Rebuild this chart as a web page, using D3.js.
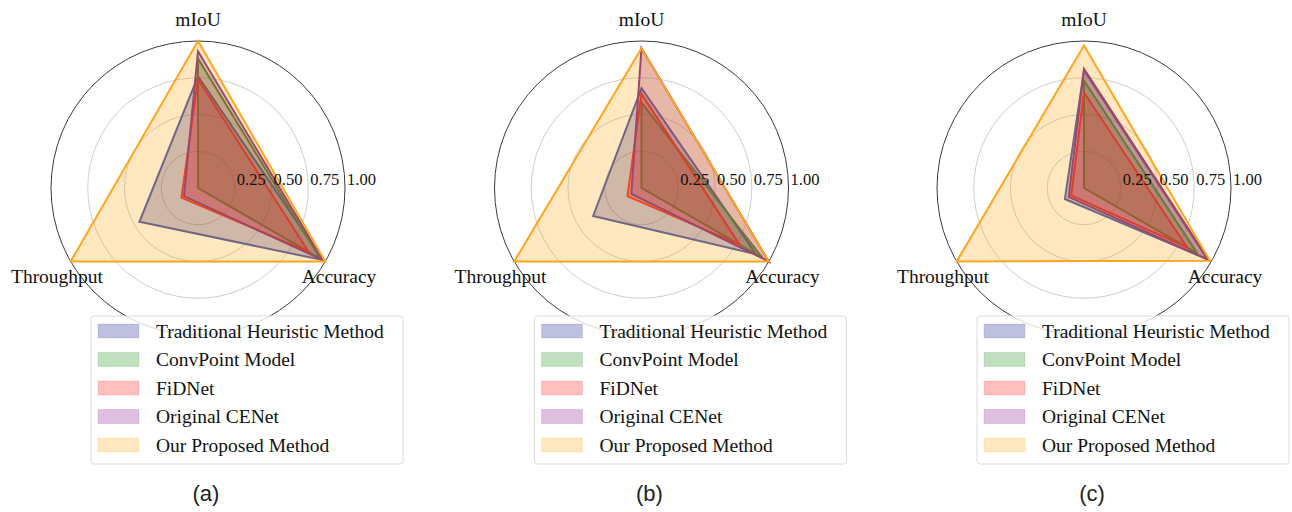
<!DOCTYPE html>
<html>
<head>
<meta charset="utf-8">
<script src="https://cdn.jsdelivr.net/npm/d3@7"></script>
<style>
  body { margin: 0; background: #fff; }
  svg { display: block; }
</style>
</head>
<body>
<div id="chart"></div>
<script>
// data
const axisNames = ['mIoU', 'Throughput', 'Accuracy'];
const methods = ['Traditional Heuristic Method', 'ConvPoint Model', 'FiDNet', 'Original CENet', 'Our Proposed Method'];
const panelNames = ['(a)', '(b)', '(c)'];
const radialTicks = [0.25, 0.5, 0.75, 1.0];

// values per method, in order [mIoU, Throughput, Accuracy]
const panelA = [
    [0.76, 0.46, 0.98],
    [0.88, 0.00, 0.96],
    [0.74, 0.13, 0.87],
    [0.93, 0.11, 0.98],
    [1.00, 1.00, 1.00]
];
const panelB = [
    [0.68, 0.38, 0.90],
    [0.58, 0.00, 0.95],
    [0.64, 0.11, 0.77],
    [0.95, 0.08, 1.00],
    [0.95, 1.00, 1.00]
];
const panelC = [
    [0.80, 0.15, 0.97],
    [0.73, 0.00, 0.89],
    [0.65, 0.10, 0.81],
    [0.81, 0.12, 0.98],
    [0.97, 1.00, 0.99]
];
const panels = [panelA, panelB, panelC];

const lineColors = ['#4252b2', '#2a8c3c', '#f02424', '#7b2a8c', '#ffa520'];
const fillColors = ['#000080', '#008000', '#ff0000', '#800080', '#ffa500'];

// initialization
const width = 1292, height = 512;
const radius = 147;
const centersX = [198, 641.5, 1084];
const centerY = 188;

const svg = d3.select('#chart').append('svg')
    .attr('width', width)
    .attr('height', height)
    .style('background', '#fff');

const rScale = d3.scaleLinear().domain([0, 1]).range([0, radius]);
// d3 radial angles: 0 at top, clockwise
const angleScale = d3.scaleOrdinal()
    .domain(axisNames)
    .range([0, 4 * Math.PI / 3, 2 * Math.PI / 3]);

const radarLine = d3.lineRadial()
    .angle((d, i) => angleScale(axisNames[i]))
    .radius(d => rScale(d))
    .curve(d3.curveLinearClosed);

const serif = '"Liberation Serif", "Times New Roman", serif';

panels.forEach((values, p) => {
    const cx = centersX[p];
    const g = svg.append('g')
        .attr('transform', 'translate(' + cx + ',' + centerY + ')');

    // grid circles
    g.selectAll('circle.grid')
        .data(radialTicks.slice(0, -1))
        .join('circle')
        .attr('class', 'grid')
        .attr('r', d => rScale(d))
        .attr('fill', 'none')
        .attr('stroke', '#cfcfcf')
        .attr('stroke-width', 1);

    // outer spine
    g.append('circle')
        .attr('r', rScale(1))
        .attr('fill', 'none')
        .attr('stroke', '#3a3a3a')
        .attr('stroke-width', 1);

    // polygons
    values.forEach((vals, i) => {
        g.append('path')
            .attr('d', radarLine(vals))
            .attr('fill', fillColors[i])
            .attr('fill-opacity', 0.25)
            .attr('stroke', lineColors[i])
            .attr('stroke-width', 2)
            .attr('stroke-linejoin', 'miter');
    });

    // radial tick labels
    g.selectAll('text.rtick')
        .data(radialTicks)
        .join('text')
        .attr('class', 'rtick')
        .attr('x', d => rScale(d) + 2)
        .attr('y', -3)
        .attr('font-family', serif)
        .attr('font-size', 16.5)
        .attr('fill', '#111')
        .text(d => d3.format('.2f')(d));

    // axis labels
    axisNames.forEach(name => {
        const a = angleScale(name);
        const side = Math.sign(Math.round(Math.sin(a) * 100));
        g.append('text')
            .attr('x', side * 141)
            .attr('y', name === 'mIoU' ? -162 : 95)
            .attr('text-anchor', 'middle')
            .attr('font-family', serif)
            .attr('font-size', 19.5)
            .attr('fill', '#111')
            .text(name);
    });

    // legend
    const lg = g.append('g')
        .attr('transform', 'translate(-107,' + (316 - centerY) + ')');
    lg.append('rect')
        .attr('width', 312)
        .attr('height', 148)
        .attr('rx', 3)
        .attr('fill', '#fff')
        .attr('fill-opacity', 0.8)
        .attr('stroke', '#dcdcdc')
        .attr('stroke-width', 1);
    methods.forEach((m, i) => {
        const yy = 15 + i * 28.5;
        lg.append('rect')
            .attr('x', 7)
            .attr('y', yy - 7)
            .attr('width', 41)
            .attr('height', 14)
            .attr('fill', fillColors[i])
            .attr('fill-opacity', 0.25)
            .attr('stroke', lineColors[i])
            .attr('stroke-opacity', 0.15);
        lg.append('text')
            .attr('x', 65)
            .attr('y', yy + 6.5)
            .attr('font-family', serif)
            .attr('font-size', 19.5)
            .attr('fill', '#111')
            .text(m);
    });

    // panel caption
    svg.append('text')
        .attr('x', cx + 8)
        .attr('y', 501)
        .attr('text-anchor', 'middle')
        .attr('font-family', '"Liberation Sans", Arial, sans-serif')
        .attr('font-size', 22)
        .attr('fill', '#222')
        .text(panelNames[p]);
});
</script>
</body>
</html>
